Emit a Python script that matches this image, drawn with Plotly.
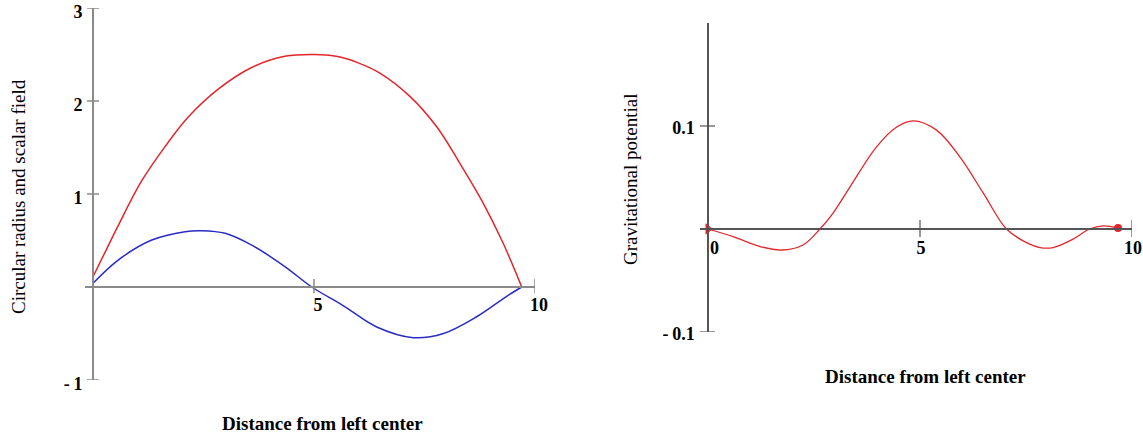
import plotly.graph_objects as go

W, H = 1143, 437

# ---- data ----
radius_x = [0, 0.3, 0.57, 1.1, 1.63, 2.16, 2.84, 3.59, 4.34, 5.0, 5.5, 6.0, 6.49, 7.17, 7.78, 8.3, 8.83, 9.28, 9.7]
radius_y = [0.11, 0.40, 0.66, 1.14, 1.51, 1.83, 2.13, 2.36, 2.48, 2.50, 2.48, 2.41, 2.30, 2.05, 1.72, 1.33, 0.90, 0.47, 0.0]

field_x = [0, 0.57, 1.33, 2.08, 2.46, 2.99, 3.59, 4.34, 4.95, 5.66, 6.42, 7.25, 7.93, 8.68, 9.36, 9.7]
field_y = [0.04, 0.29, 0.505, 0.595, 0.605, 0.577, 0.45, 0.22, 0.0, -0.20, -0.43, -0.545, -0.50, -0.32, -0.10, 0.0]

pot_x = [0, 0.59, 1.23, 1.74, 2.24, 2.64, 2.95, 3.35, 3.98, 4.45, 4.84, 5.39, 5.94, 6.49, 7.04, 7.5, 7.83, 8.14, 8.6, 9.0, 9.32, 9.67]
pot_y = [0, -0.0074, -0.017, -0.0204, -0.0155, 0, 0.0155, 0.041, 0.080, 0.099, 0.105, 0.096, 0.070, 0.035, 0, -0.013, -0.018, -0.018, -0.010, 0, 0.003, 0.001]

left_xticks = [5, 10]
left_xticktext = ["5", "10"]
left_yticks = [-1, 1, 2, 3]
left_yticktext = ["-\u20091", "1", "2", "3"]
right_xticks = [0, 5, 10]
right_xticktext = ["\u2009\u2009\u20090", "5", "10"]
right_yticks = [-0.1, 0.1]
right_yticktext = ["-\u20090.1", "0.1"]

RED = "#e3262b"
BLUE = "#2a2ac4"
SERIF = "Liberation Serif"

fig = go.Figure()
fig.add_trace(go.Scatter(x=radius_x, y=radius_y, mode="lines",
                         line=dict(color=RED, width=1.5, shape="spline"),
                         xaxis="x", yaxis="y", showlegend=False))
fig.add_trace(go.Scatter(x=field_x, y=field_y, mode="lines",
                         line=dict(color=BLUE, width=1.5, shape="spline"),
                         xaxis="x", yaxis="y", showlegend=False))
fig.add_trace(go.Scatter(x=pot_x, y=pot_y, mode="lines",
                         line=dict(color=RED, width=1.3, shape="spline"),
                         xaxis="x2", yaxis="y2", showlegend=False))
# trace end markers
fig.add_trace(go.Scatter(x=[pot_x[0]], y=[pot_y[0]], mode="markers",
                         marker=dict(symbol="triangle-right", size=10, color=RED),
                         xaxis="x2", yaxis="y2", showlegend=False))
fig.add_trace(go.Scatter(x=[pot_x[-1]], y=[pot_y[-1]], mode="markers",
                         marker=dict(symbol="circle", size=8, color=RED),
                         xaxis="x2", yaxis="y2", showlegend=False))

tickfont = dict(family=SERIF, size=18, color="black", weight="bold")

# pixel geometry
L_X0, L_X1, L_ZERO_X = 85, 535, 93
L_Y_TOP, L_Y_BOT, L_ZERO_Y = 8, 380, 287
R_X0, R_X1, R_ZERO_X = 700, 1132, 708
R_Y_TOP, R_Y_BOT, R_ZERO_Y = 23, 332, 229

L_GRAY = "#8a8a8a"
R_GRAY = "#555555"

common = dict(showgrid=False, zeroline=False, tickfont=tickfont, automargin=False,
              ticklabeloverflow="allow", tickmode="array", ticks="")

fig.update_layout(
    width=W, height=H,
    margin=dict(l=0, r=0, t=0, b=0, autoexpand=False),
    paper_bgcolor="white", plot_bgcolor="white",
    xaxis=dict(domain=[L_X0 / W, L_X1 / W], range=[-0.181, 10], anchor="free",
               position=1 - L_ZERO_Y / H, showline=True, linecolor=L_GRAY, linewidth=2,
               tickvals=left_xticks, ticktext=left_xticktext,
               ticklabelstandoff=1, ticklabelshift=4, **common),
    yaxis=dict(domain=[1 - L_Y_BOT / H, 1 - L_Y_TOP / H], range=[-1, 3], anchor="free",
               position=L_ZERO_X / W, showline=True, linecolor=L_GRAY, linewidth=2,
               tickvals=left_yticks, ticktext=left_yticktext,
               ticklabelstandoff=6, ticklabelshift=4, **common),
    xaxis2=dict(domain=[R_X0 / W, R_X1 / W], range=[-0.189, 10], anchor="free",
                position=1 - R_ZERO_Y / H, showline=True, linecolor=R_GRAY, linewidth=1.5,
                tickvals=right_xticks, ticktext=right_xticktext,
                ticklabelstandoff=3, ticklabelshift=1, **common),
    yaxis2=dict(domain=[1 - R_Y_BOT / H, 1 - R_Y_TOP / H], range=[-0.1, 0.2], anchor="free",
                position=R_ZERO_X / W, showline=True, linecolor=R_GRAY, linewidth=1.5,
                tickvals=right_yticks, ticktext=right_yticktext,
                ticklabelstandoff=9, ticklabelshift=2, **common),
)

# crossing tick marks (in data units derived from pixel lengths)
shapes = []
lx_per_px = 10.181 / (L_X1 - L_X0)
ly_per_px = 4 / (L_Y_BOT - L_Y_TOP)
rx_per_px = 10.189 / (R_X1 - R_X0)
ry_per_px = 0.3 / (R_Y_BOT - R_Y_TOP)
for v in left_yticks:
    shapes.append(dict(type="line", xref="x", yref="y", x0=-6 * lx_per_px, x1=6 * lx_per_px,
                       y0=v, y1=v, line=dict(color=L_GRAY, width=1.5)))
for v in left_xticks:
    shapes.append(dict(type="line", xref="x", yref="y", x0=v, x1=v,
                       y0=-6 * ly_per_px, y1=8 * ly_per_px, line=dict(color=L_GRAY, width=1.5)))
for v in right_yticks:
    shapes.append(dict(type="line", xref="x2", yref="y2", x0=-8 * rx_per_px, x1=7 * rx_per_px,
                       y0=v, y1=v, line=dict(color=R_GRAY, width=1.2)))
for v in right_xticks[1:]:
    shapes.append(dict(type="line", xref="x2", yref="y2", x0=v, x1=v,
                       y0=-8 * ry_per_px, y1=9 * ry_per_px, line=dict(color=R_GRAY, width=1.2)))
fig.update_layout(shapes=shapes)

ann_font = dict(family=SERIF, size=19, color="black")
ann_bold = dict(family=SERIF, size=19, color="black", weight="bold")
fig.update_layout(annotations=[
    dict(text="Circular radius and scalar field", xref="paper", yref="paper",
         x=18 / W, y=1 - 197 / H, textangle=-90, showarrow=False,
         xanchor="center", yanchor="middle", font=ann_font),
    dict(text="Distance from left center", xref="paper", yref="paper",
         x=323 / W, y=1 - 423 / H, showarrow=False,
         xanchor="center", yanchor="middle", font=ann_bold),
    dict(text="Gravitational potential", xref="paper", yref="paper",
         x=630 / W, y=1 - 180 / H, textangle=-90, showarrow=False,
         xanchor="center", yanchor="middle", font=ann_font),
    dict(text="Distance from left center", xref="paper", yref="paper",
         x=925 / W, y=1 - 376 / H, showarrow=False,
         xanchor="center", yanchor="middle", font=ann_bold),
])

fig.write_html("out.html")
